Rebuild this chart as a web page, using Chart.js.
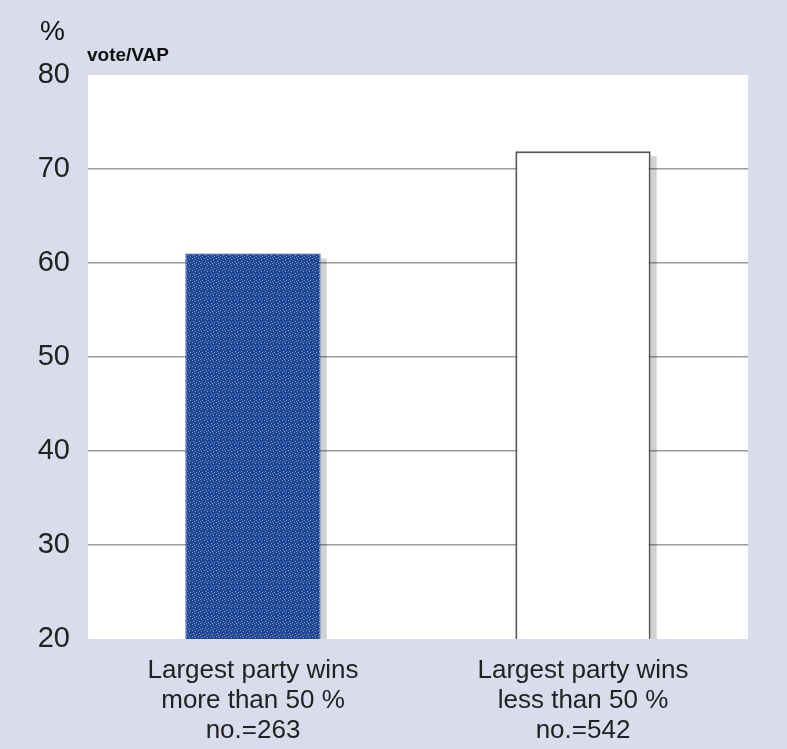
<!DOCTYPE html>
<html>
<head>
<meta charset="utf-8">
<script src="https://cdn.jsdelivr.net/npm/chart.js@4"></script>
<style>
  html, body { margin: 0; padding: 0; background: #d9dcec; }
  #wrap { width: 787px; height: 749px; }
</style>
</head>
<body>
<div id="wrap"><canvas id="voteChart" width="787" height="749"></canvas></div>
<script>
const categories = [
    ['Largest party wins', 'more than 50 %', 'no.=263'],
    ['Largest party wins', 'less than 50 %', 'no.=542']
];
const turnout = [61, 71.9];
const yTicks = [20, 30, 40, 50, 60, 70, 80];

// dotted blue fill like the printed screen pattern
function makePattern() {
    const c = document.createElement('canvas');
    c.width = 6; c.height = 6;
    const g = c.getContext('2d');
    g.fillStyle = '#1e4795';
    g.fillRect(0, 0, 6, 6);
    g.fillStyle = '#8796c0';
    [[0, 0], [3, 1], [1, 3], [4, 4], [2, 5]].forEach(p => g.fillRect(p[0], p[1], 1, 1));
    return g.createPattern(c, 'repeat');
}

const plotBg = {
    id: 'plotBg',
    beforeDraw(chart) {
        const { ctx, chartArea: a } = chart;
        ctx.save();
        ctx.fillStyle = '#d9dcec';
        ctx.fillRect(0, 0, chart.width, chart.height);
        ctx.fillStyle = '#ffffff';
        ctx.fillRect(a.left, a.top, a.right - a.left, a.bottom - a.top);
        ctx.fillStyle = '#111';
        ctx.font = '28px "Liberation Sans", Arial, sans-serif';
        ctx.textBaseline = 'middle';
        ctx.fillText('%', 40, 32);
        ctx.font = 'bold 19px "Liberation Sans", Arial, sans-serif';
        ctx.fillText('vote/VAP', 87, 56);
        ctx.restore();
    }
};

// grey drop shadow on the right side of each bar
const barShadow = {
    id: 'barShadow',
    beforeDatasetsDraw(chart) {
        const ctx = chart.ctx;
        const bottom = chart.chartArea.bottom;
        ctx.save();
        ctx.fillStyle = 'rgba(0,0,0,0.18)';
        chart.getDatasetMeta(0).data.forEach(bar => {
            const right = bar.x + bar.width / 2;
            ctx.fillRect(right, bar.y + 5, 6, bottom - bar.y - 5);
        });
        ctx.restore();
    }
};

const ctx = document.getElementById('voteChart').getContext('2d');
new Chart(ctx, {
    type: 'bar',
    data: {
        labels: categories,
        datasets: [{
            data: turnout,
            backgroundColor: [makePattern(), '#ffffff'],
            borderColor: ['#1e4795', '#555555'],
            borderWidth: [1, 2],
            borderSkipped: 'bottom',
            categoryPercentage: 1,
            barPercentage: 0.41
        }]
    },
    options: {
        responsive: false,
        animation: false,
        layout: { padding: { left: 0, right: 39, top: 75, bottom: 0 } },
        plugins: { legend: { display: false }, tooltip: { enabled: false } },
        scales: {
            x: {
                grid: { display: false },
                border: { display: false },
                ticks: {
                    color: '#222',
                    padding: 9,
                    font: { family: '"Liberation Sans", Arial', size: 26, lineHeight: 1.15 }
                },
                afterFit(scale) { scale.height = 110; }
            },
            y: {
                min: 20,
                max: 80,
                afterBuildTicks(scale) { scale.ticks = yTicks.map(v => ({ value: v })); },
                grid: {
                    drawTicks: false,
                    color: c => (c.tick && (c.tick.value === 20 || c.tick.value === 80)) ? 'rgba(0,0,0,0)' : '#9a9a9a',
                    lineWidth: 1.5
                },
                border: { display: false },
                ticks: {
                    color: '#222',
                    padding: 18,
                    font: { family: '"Liberation Sans", Arial', size: 29 }
                },
                afterFit(scale) { scale.width = 88; }
            }
        }
    },
    plugins: [plotBg, barShadow]
});
</script>
</body>
</html>
